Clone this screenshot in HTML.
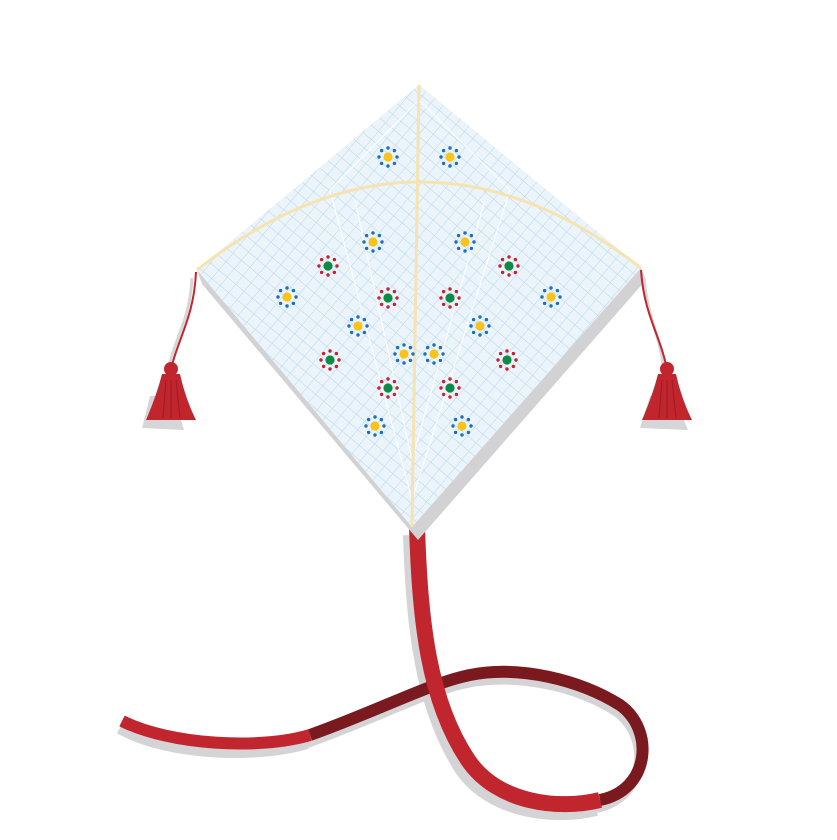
<!DOCTYPE html>
<html><head><meta charset="utf-8"><style>html,body{margin:0;padding:0;background:#fff}svg{display:block}</style></head>
<body>
<svg width="837" height="840" viewBox="0 0 837 840" xmlns="http://www.w3.org/2000/svg">
<defs>
<pattern id="grid" width="11" height="11" patternUnits="userSpaceOnUse" patternTransform="rotate(40)">
<rect width="11" height="11" fill="#eaf4fa"/>
<path d="M0 0H11M0 0V11" stroke="#b8d4e8" stroke-width="0.9" fill="none"/>
</pattern>
<g id="blue"><g fill="#1b6fc0"><circle cx="0" cy="-9" r="1.7"/><circle cx="6.4" cy="-6.4" r="1.7"/><circle cx="9" cy="0" r="1.7"/><circle cx="6.4" cy="6.4" r="1.7"/><circle cx="0" cy="9" r="1.7"/><circle cx="-6.4" cy="6.4" r="1.7"/><circle cx="-9" cy="0" r="1.7"/><circle cx="-6.4" cy="-6.4" r="1.7"/></g><circle r="4.6" fill="#f8c31b"/></g>
<g id="red"><g fill="#c8202e"><circle cx="0" cy="-9" r="1.7"/><circle cx="6.4" cy="-6.4" r="1.7"/><circle cx="9" cy="0" r="1.7"/><circle cx="6.4" cy="6.4" r="1.7"/><circle cx="0" cy="9" r="1.7"/><circle cx="-6.4" cy="6.4" r="1.7"/><circle cx="-9" cy="0" r="1.7"/><circle cx="-6.4" cy="-6.4" r="1.7"/></g><circle r="4.6" fill="#0e8a45"/></g>
</defs>

<g fill="none" stroke="#d4d4d6">
<path d="M411 535 C414 625 422 705 462 768 C492 812 556 818 596 808" stroke-width="16"/>
<path d="M596 808 C646 798 652 738 617 712 C577 686 517 673 467 683 C427 691 377 718 307 743" stroke-width="10"/>
<path d="M307 743 C257 758 167 755 120 728" stroke-width="12"/>
</g>
<path d="M600 800 C650 790 655 730 620 705 C580 680 520 665 470 675 C430 683 380 710 310 735" fill="none" stroke="#7a1a1f" stroke-width="12"/>
<path d="M310 735 C260 750 170 745 122 721" fill="none" stroke="#c1262e" stroke-width="12"/>
<path d="M417 527 C420 620 428 700 468 760 C498 804 560 810 600 800" fill="none" stroke="#c1262e" stroke-width="16"/>

<polygon points="197,270 419,85 641,268 646,280 418,540 202,284" fill="#d2d2d4"/>
<polygon points="197,270 419,85 641,268 412,527" fill="url(#grid)"/>
<g stroke="#ffffff" stroke-width="1.2" fill="none" opacity="0.9">
<path d="M419 100 L330 190 L412 500"/><path d="M419 100 L510 190 L412 500"/><path d="M355 200 L412 460"/><path d="M485 200 L412 460"/>
</g>
<path d="M197 270 Q419 95 641 268" fill="none" stroke="#f6e3b0" stroke-width="3"/>
<line x1="419" y1="85" x2="412" y2="527" stroke="#f6e3b0" stroke-width="3"/>

<g>
<use href="#blue" x="388" y="157"/><use href="#blue" x="450" y="157"/>
<use href="#blue" x="373" y="242"/><use href="#blue" x="465" y="242"/>
<use href="#blue" x="287" y="297"/><use href="#blue" x="551" y="297"/>
<use href="#blue" x="358" y="326"/><use href="#blue" x="480" y="326"/>
<use href="#blue" x="404" y="354"/><use href="#blue" x="434" y="354"/>
<use href="#blue" x="375" y="426"/><use href="#blue" x="462" y="426"/>
<use href="#red" x="328" y="266"/><use href="#red" x="509" y="266"/>
<use href="#red" x="388" y="298"/><use href="#red" x="450" y="298"/>
<use href="#red" x="330" y="360"/><use href="#red" x="507" y="360"/>
<use href="#red" x="388" y="388"/><use href="#red" x="450" y="388"/>
</g>

<g>
<path d="M192 278 C190 320 176 335 168 370" stroke="#d6d6d8" stroke-width="3" fill="none"/>
<path d="M142 428 L150 396 L174 396 L184 430 Z" fill="#d6d6d8"/>
<path d="M196 272 C194 315 180 335 172 365" stroke="#c1262e" stroke-width="2" fill="none"/>
<circle cx="171" cy="369" r="7" fill="#c1262e"/>
<path d="M162 374 L180 374 C184 392 190 408 196 420 L146 420 C152 406 158 390 162 374 Z" fill="#c1262e"/>
<path d="M166 380 L163 418 M171 380 L171 418 M176 380 L180 418" stroke="#9a1c23" stroke-width="1"/>
</g>
<g>
<path d="M644 278 C648 320 660 335 664 370" stroke="#d6d6d8" stroke-width="3" fill="none"/>
<path d="M640 428 L650 396 L674 396 L688 430 Z" fill="#d6d6d8"/>
<path d="M641 270 C644 315 660 335 666 365" stroke="#c1262e" stroke-width="2" fill="none"/>
<circle cx="667" cy="369" r="7" fill="#c1262e"/>
<path d="M658 374 L676 374 C680 392 686 408 692 420 L642 420 C648 406 654 390 658 374 Z" fill="#c1262e"/>
<path d="M662 380 L659 418 M667 380 L667 418 M672 380 L676 418" stroke="#9a1c23" stroke-width="1"/>
</g>
</svg>
</body></html>
